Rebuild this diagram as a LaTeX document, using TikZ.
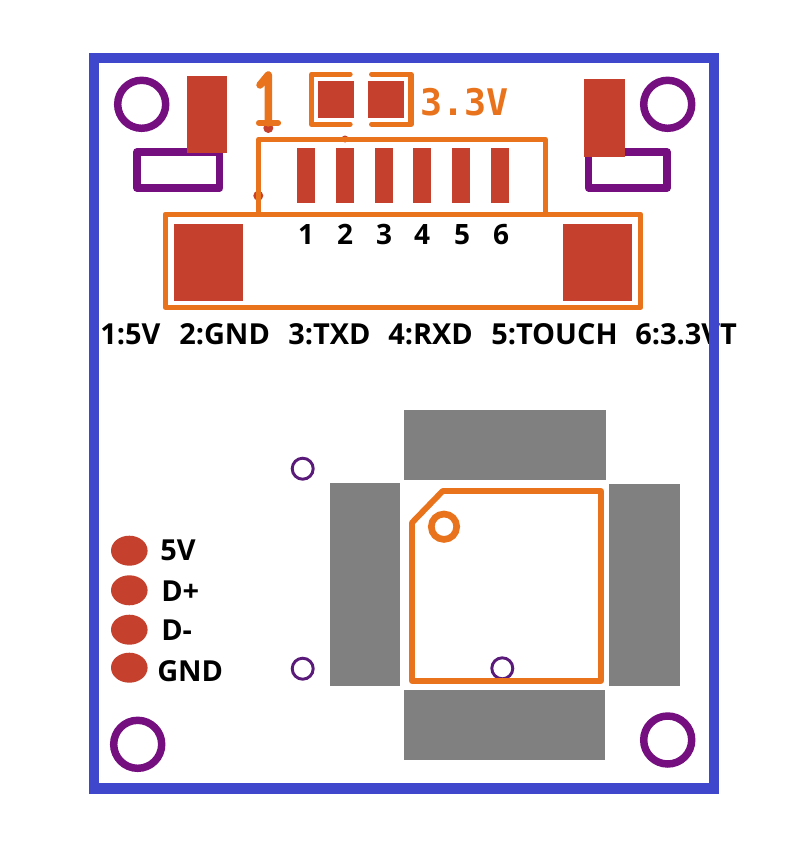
\documentclass[tikz,border=0pt]{standalone}
\usepackage{fontspec}
\setmainfont{Open Sans}
\newfontfamily\silkfont{DejaVu Sans Mono}
\usetikzlibrary{positioning}
\definecolor{padred}{HTML}{C5402D}
\definecolor{silkorange}{HTML}{E8731C}
\definecolor{holepurple}{HTML}{750F80}
\definecolor{viapurple}{HTML}{5A1A7A}
\definecolor{edgeblue}{HTML}{3F48CC}
\definecolor{padgray}{HTML}{808080}
\begin{document}
\begin{tikzpicture}[x=0.75pt,y=-0.75pt,
pad/.style = {fill = padred},
graypad/.style = {fill = padgray},
silk/.style = {draw = silkorange, line width = 4pt, line join = round},
hole/.style = {draw = holepurple, line width = 5.6pt},
via/.style = {draw = viapurple, line width = 2.2pt},
pinno/.style = {anchor = base, inner sep = 0pt, font = \bfseries\fontsize{21}{22}\selectfont},
legend/.style = {anchor = base west, inner sep = 0pt, font = \bfseries\fontsize{21.7}{22}\selectfont},]
\useasboundingbox (0,0) rectangle (792,849);
\fill[white] (0,0) rectangle (792,849);
% mounting holes
\draw[hole] (141.7,104.3) circle (24);
\draw[hole] (667.7,104.3) circle (24);
\draw[hole] (137.7,744.3) circle (24);
\draw[hole] (667.7,740) circle (24);
% side connectors
\draw[hole,line join=round] (137,152) rectangle (219.7,188);
\draw[hole,line join=round] (588.7,152) rectangle (667,188);
\fill[pad] (186.7,75.7) rectangle (227.3,152.7);
\fill[pad] (584.3,79.3) rectangle (625,156.7);
% 3.3V jumper
\fill[pad] (318,80.7) rectangle (354.3,118);
\fill[pad] (367.7,80.7) rectangle (404,118);
\draw[silk,line cap=round] (350,74.3)--(311.7,74.3)--(311.7,124.3)--(350,124.3);
\draw[silk,line cap=round] (371.7,74.3)--(411,74.3)--(411,124.3)--(371.7,124.3);
\node (jumper) at (420,115)[anchor=base west,inner sep=0pt,text=silkorange,font=\silkfont\bfseries\fontsize{27.5}{30}\selectfont] {3.3V};
% pin one mark
\fill[pad] (268.3,128) circle (5);
\draw[silkorange,line width=5.6pt,line cap=round,line join=round] (260,85)--(268.3,75)--(268.3,123);
\draw[silkorange,line width=4.6pt,line cap=round] (259,123)--(278,123);
% header
\fill[pad] (345,139) circle (3.5);
\fill[pad] (258.3,195.7) circle (5);
\draw[silk] (258.7,214)--(258.7,139.3)--(545.3,139.3)--(545.3,214);
\draw[silk] (165.3,214.3) rectangle (640.7,307.3);
\foreach \i in {0,...,5}
  \fill[pad] (297.3+38.7*\i,148.3) rectangle (315.3+38.7*\i,203.3);
\fill[pad] (174,224) rectangle (243,301);
\fill[pad] (563,224) rectangle (632,301);
\node (n1) at (306,244.3)[pinno] {1};
\node (n2) at (345,244.3)[pinno] {2};
\node (n3) at (384,244.3)[pinno] {3};
\node (n4) at (422,244.3)[pinno] {4};
\node (n5) at (462,244.3)[pinno] {5};
\node (n6) at (501,244.3)[pinno] {6};
% pin names
\node (p1) at (100,344)[legend] {1:5V};
\node (p2) at (179,344)[legend] {2:GND};
\node (p3) at (288,344)[legend] {3:TXD};
\node (p4) at (388,344)[legend] {4:RXD};
\node (p5) at (491,344)[legend] {5:TOUCH};
\node (p6) at (635,344)[legend] {6:3.3VT};
% board edge
\draw[edgeblue,line width=7.6pt] (94,58) rectangle (714,788.5);
% gray pads
\fill[graypad] (404,410) rectangle (606,480);
\fill[graypad] (404,690) rectangle (605,760);
\fill[graypad] (330,483) rectangle (400,686);
\fill[graypad] (609,484) rectangle (680,686);
% vias
\draw[via] (302.7,468.7) circle (10.5);
\draw[via] (302.7,668.7) circle (10.5);
\draw[via] (502.3,668.3) circle (10.5);
% chip outline
\draw[silk,line width=4.4pt] (442.7,491)--(601,491)--(601,681)--(412,681)--(412,522.7)--cycle;
\draw[silkorange,line width=5pt] (444,526.7) circle (12.7);
% usb pads
\fill[pad] (129.3,550.7) ellipse (18.3 and 15);
\fill[pad] (129.3,590.3) ellipse (18.3 and 15);
\fill[pad] (129.3,629.7) ellipse (18.3 and 15);
\fill[pad] (129.3,667.7) ellipse (18.3 and 15);
\node (v5) at (160,560.7)[legend] {5V};
\node (dp) at (161,601.7)[legend] {D+};
\node (dm) at (161,640.7)[legend] {D-};
\node (gnd) at (157,681)[legend] {GND};
\end{tikzpicture}
\end{document}
